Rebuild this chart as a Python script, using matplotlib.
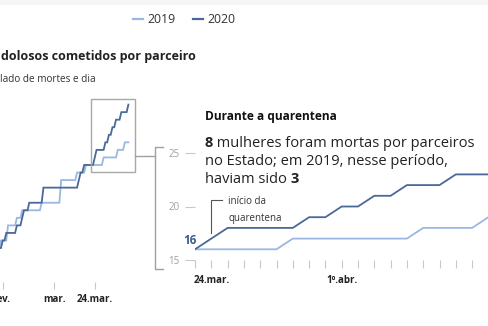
import numpy as np
import pandas as pd
import matplotlib
matplotlib.use("Agg")
import matplotlib.pyplot as plt
import matplotlib.dates as mdates
from matplotlib.lines import Line2D
from matplotlib.patches import Rectangle

plt.rcParams["font.family"] = ["Open Sans", "DejaVu Sans"]

W, H = 489, 326

# cumulative deaths, one value per day (2020 calendar, 2019 aligned by day)
dates = pd.date_range("2020-01-30", "2020-04-12", freq="D")
deaths_2020 = [5, 5, 6, 6, 7, 7, 7, 7, 7, 7, 8, 8, 8, 9, 10, 10, 10,
               11, 11, 11, 11, 11, 11, 11, 11,
               13, 13, 13, 13, 13, 13, 13, 13, 13, 13, 13, 13, 13, 13, 13, 13,
               13, 13, 13, 13, 14, 15, 15, 16, 16, 16, 16, 16,
               16, 17, 18, 18, 18, 18, 18, 19, 19, 20, 20, 21, 21, 22, 22, 22,
               23, 23, 23, 23, 24]
deaths_2019 = [5, 6, 6, 6, 6, 8, 8, 8, 8, 8, 9, 9, 9,
               10, 10, 10, 10, 10, 10, 10, 10, 10, 10, 10,
               11, 11, 11, 11, 11, 11, 11, 11, 11, 11, 11,
               14, 14, 14, 14, 14, 14, 14, 14, 14, 15, 15, 15, 15, 15,
               16, 16, 16, 16,
               16, 16, 16, 16, 16, 16, 17, 17, 17, 17, 17, 17, 17, 17, 18, 18,
               18, 18, 19, 19, 19]

series_years = ["2019", "2020"]
series_colors = {"2019": "#9ab8e2", "2020": "#4a6899"}

quarantine_start = pd.Timestamp("2020-03-24")
zoom_start = pd.Timestamp("2020-03-23")
overview_ticks = [pd.Timestamp("2020-02-01"), pd.Timestamp("2020-03-01"), quarantine_start]
overview_labels = ["fev.", "mar.", "24.mar."]
zoom_label_dates = [quarantine_start, pd.Timestamp("2020-04-01")]
zoom_labels = ["24.mar.", "1º.abr."]
zoom_yticks = [15, 20, 25]

title = "dolosos cometidos por parceiro"
subtitle = "lado de mortes e dia"
box_title = "Durante a quarentena"

series = {"2019": deaths_2019, "2020": deaths_2020}


def fig_xy(x, y):
    """pixel position (from top-left) -> figure fraction"""
    return x / W, 1 - y / H


def px_axes(x0, y_top, w, h):
    return [x0 / W, 1 - (y_top + h) / H, w / W, h / H]


fig = plt.figure(figsize=(W / 100, H / 100), dpi=100)
fig.patch.set_facecolor("white")

# faint grey strip at the very top
fig.add_artist(Rectangle((0, 1 - 5 / H), 1, 5 / H, transform=fig.transFigure,
                         color="#f6f6f6", lw=0, zorder=0))

# ---- overview chart (whole period) ----
t0 = mdates.date2num(zoom_start)
ov = fig.add_axes(px_axes(-13.2, 59.3, 159.3, 222.7))
for yr in series_years:
    ov.plot(dates, series[yr], color=series_colors[yr], lw=1.3,
            solid_joinstyle="miter", zorder=3 if yr == "2020" else 2)
ov.set_xlim(t0 - 60, t0 + 30)
ov.set_ylim(0.5, 30)
ov.set_xticks(overview_ticks)
ov.set_xticklabels(overview_labels, fontsize=7, fontweight="bold", color="#222222")
ov.set_yticks([])
ov.tick_params(axis="x", length=5, width=0.8, color="#c8c8c8", pad=4)
for s in ov.spines.values():
    s.set_visible(False)
ov.patch.set_alpha(0)

# box around the zoomed period
ov.add_patch(Rectangle((t0 - 1.3, 15.07), 25.0, 9.67, fill=False,
                       ec="#a8a8a8", lw=1.0, zorder=4))

# connector + bracket towards the detail chart
conn = dict(color="#a0a0a0", lw=1.0, transform=fig.transFigure)
fig.add_artist(Line2D(*zip(fig_xy(135, 156), fig_xy(155, 156)), **conn))
fig.add_artist(Line2D(*zip(fig_xy(163, 147.5), fig_xy(155, 147.5),
                           fig_xy(155, 268.5), fig_xy(163, 268.5)), **conn))

# ---- detail chart (quarantine) ----
zm = fig.add_axes(px_axes(195, 147.65, 326, 112.35))
mask = dates >= zoom_start
for yr in series_years:
    zm.plot(dates[mask], np.array(series[yr])[mask], color=series_colors[yr],
            lw=1.3, zorder=3 if yr == "2020" else 2)
zm.set_xlim(t0, t0 + 20)
zm.set_ylim(15, 25.5)
zm.set_yticks(zoom_yticks)
zm.set_yticklabels([str(v) for v in zoom_yticks], fontsize=7, color="#a0a0a0")
# labelled dates as major ticks, every day as minor tick
zm.set_xticks(zoom_label_dates)
zm.set_xticklabels(zoom_labels, fontsize=7, fontweight="bold", color="#222222")
zm.xaxis.set_minor_locator(mdates.DayLocator())
zm.tick_params(axis="x", which="both", length=6, width=0.8, color="#c8c8c8",
               pad=5)
zm.tick_params(axis="y", length=7, width=0.8, color="#c8c8c8", pad=4)
for s in zm.spines.values():
    s.set_visible(False)
zm.patch.set_alpha(0)

# start value label
i0 = list(dates).index(zoom_start)
start_val = deaths_2020[i0]
zm.annotate(str(start_val), xy=(zoom_start, start_val), xytext=(1, 2),
            textcoords="offset points", ha="right", va="bottom",
            fontsize=8.5, fontweight="bold", color="#3d5b8c")

# quarantine callout
q = mdates.date2num(quarantine_start)
zm.plot([q, q, q + 0.65], [17.5, 20.6, 20.6], color="#555555", lw=0.8,
        solid_joinstyle="miter")
zm.text(q + 1.05, 20.95, "início da\nquarentena", fontsize=7, color="#333333",
        va="top", ha="left", linespacing=1.75)

# ---- texts ----
fig.text(*fig_xy(1, 60), title, fontsize=9, fontweight="bold",
         color="#222222", va="baseline")
fig.text(*fig_xy(0, 81.7), subtitle, fontsize=7.2, color="#333333",
         va="baseline")
fig.text(*fig_xy(205, 120), box_title, fontsize=8.6, fontweight="bold",
         color="#111111", va="baseline")

n2020 = deaths_2020[-1] - deaths_2020[i0]
n2019 = deaths_2019[-1] - deaths_2019[i0]
big = dict(fontsize=10.5, color="#222222", va="baseline")

fig.canvas.draw()
r = fig.canvas.get_renderer()
t1 = fig.text(*fig_xy(205, 147.3), str(n2020), fontweight="bold", **big)
bb = t1.get_window_extent(r)
fig.text(bb.x1 / W, 1 - 147.3 / H, " mulheres foram mortas por parceiros", **big)
fig.text(*fig_xy(205, 165.3), "no Estado; em 2019, nesse período,", **big)
t3 = fig.text(*fig_xy(205, 183.3), "haviam sido ", **big)
bb3 = t3.get_window_extent(r)
fig.text(bb3.x1 / W, 1 - 183.3 / H, str(n2019), fontweight="bold", **big)

# legend
handles = [Line2D([], [], color=series_colors[yr], lw=1.6) for yr in series_years]
fig.legend(handles, series_years, loc="center left",
           bbox_to_anchor=fig_xy(133, 19.5), ncol=2, frameon=False,
           fontsize=8.8, handlelength=0.85, handletextpad=0.35,
           columnspacing=1.4, borderpad=0, borderaxespad=0,
           labelcolor="#333333")

fig.savefig("out.png", dpi=100)
